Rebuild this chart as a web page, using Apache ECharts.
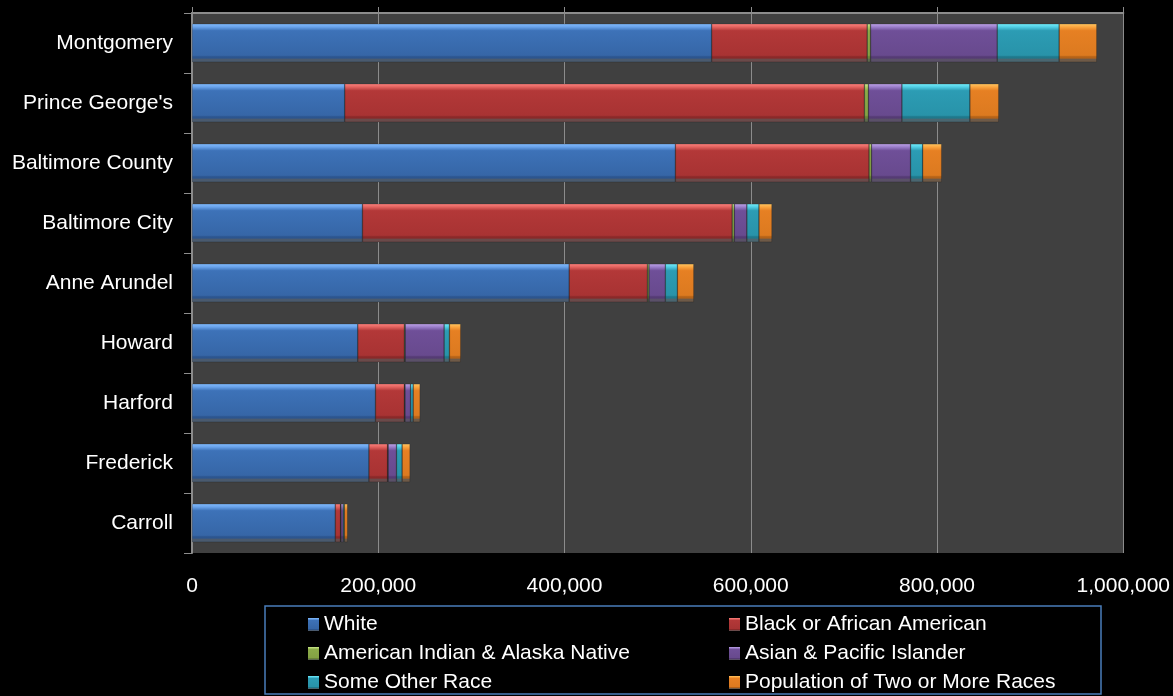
<!DOCTYPE html>
<html>
<head>
<meta charset="utf-8">
<script src="https://cdn.jsdelivr.net/npm/echarts@6/dist/echarts.min.js"></script>
<style>
html,body{margin:0;padding:0;background:#000;}
#c{width:1173px;height:696px;}
</style>
</head>
<body>
<div id="c"></div>
<script>
const categories = ["Montgomery","Prince George's","Baltimore County","Baltimore City","Anne Arundel","Howard","Harford","Frederick","Carroll"];
const white    = [558000, 164000, 519000, 183000, 405000, 178000, 197000, 190000, 153800];
const black    = [167000, 558000, 208000, 397000,  84000,  50000,  31000,  20000,   5700];
const amInd    = [  3600,   4300,   2600,   2300,   1700,    900,    700,    600,    400];
const asian    = [136000,  36000,  42000,  13500,  17500,  41800,   6000,   9000,   2500];
const other    = [ 66500,  73000,  13000,  13000,  13000,   5700,   2800,   6000,   1200];
const twoPlus  = [ 40500,  31000,  20400,  14000,  17700,  12200,   7500,   8600,   3500];
const xTicks = [0, 200000, 400000, 600000, 800000, 1000000];

const seriesNames = ["White","Black or African American","American Indian & Alaska Native","Asian & Pacific Islander","Some Other Race","Population of Two or More Races"];
const seriesData = [white, black, amInd, asian, other, twoPlus];
const palettes = [
  ['#82bbfc','#6aa4ec','#3d72b8','#3666a7','#2c558e','#4a5a6e'],
  ['#fd827e','#e46460','#b33838','#a83333','#8a2929','#6a4a4a'],
  ['#cfea94','#b0d068','#8bab48','#84a244','#6b8637','#5e6a4e'],
  ['#bfa4e8','#9c80cc','#6f4f98','#684a8e','#553b74','#5a5068'],
  ['#76eefc','#52d0e6','#2c9cb4','#2893a9','#1f788b','#4a6670'],
  ['#ffc864','#fca640','#e68023','#dc7a20','#b46218','#6e5a48']
];
function grad(p){
  return {type:'linear',x:0,y:0,x2:0,y2:1,colorStops:[
    {offset:0,color:p[0]},{offset:0.08,color:p[1]},{offset:0.18,color:p[2]},
    {offset:0.82,color:p[3]},{offset:0.86,color:p[4]},{offset:0.9,color:p[4]},
    {offset:0.91,color:p[5]},{offset:1,color:p[5]}]};
}

const chart = echarts.init(document.getElementById('c'));
const series = seriesNames.map((n,i)=>({
  name:n, type:'bar', stack:'total', xAxisIndex:1, barWidth:'64%',
  data: seriesData[i],
  itemStyle:{color:grad(palettes[i]), borderColor:'rgba(0,0,0,0.3)', borderWidth:0.6},
  emphasis:{disabled:true}
}));
const font = 'Liberation Sans, Arial, sans-serif';
chart.setOption({
  backgroundColor:'#000',
  animation:false,
  grid:{left:192,right:49,top:13,height:540,show:true,backgroundColor:'#404040',borderWidth:0,containLabel:false},
  xAxis:[
    {type:'value',position:'top',min:0,max:1000000,interval:200000,
     axisLine:{show:true,lineStyle:{color:'#8c8c8c',width:2}},
     axisTick:{show:true,length:6,inside:false,lineStyle:{color:'#8c8c8c',width:1}},
     axisLabel:{show:false},
     splitLine:{show:true,lineStyle:{color:'#8c8c8c',width:1}}},
    {type:'value',position:'bottom',min:0,max:1000000,interval:200000,
     axisLine:{show:false},axisTick:{show:false},splitLine:{show:false},
     axisLabel:{show:true,color:'#fff',fontSize:21,fontFamily:font,margin:23,
       formatter:v=>xTicks.includes(v)?v.toLocaleString('en-US'):''}}
  ],
  yAxis:{type:'category',data:categories,inverse:true,
    axisLine:{show:true,lineStyle:{color:'#8c8c8c',width:2}},
    axisTick:{show:true,length:8,lineStyle:{color:'#8c8c8c',width:1}},
    axisLabel:{color:'#fff',fontSize:21,fontFamily:font,margin:19},
    splitLine:{show:false}},
  legend:[
    {data:[seriesNames[0],seriesNames[2],seriesNames[4]],orient:'vertical',left:308,top:614,padding:0,height:90,
     itemWidth:11,itemHeight:13,itemGap:8,icon:'rect',itemStyle:{borderWidth:0},
     textStyle:{color:'#fff',fontSize:21,lineHeight:20,fontFamily:font}},
    {data:[seriesNames[1],seriesNames[3],seriesNames[5]],orient:'vertical',left:729,top:614,padding:0,height:90,
     itemWidth:11,itemHeight:13,itemGap:8,icon:'rect',itemStyle:{borderWidth:0},
     textStyle:{color:'#fff',fontSize:21,lineHeight:20,fontFamily:font}}
  ],
  graphic:[{type:'rect',shape:{x:265,y:606,width:836,height:88},
    style:{fill:'none',stroke:'#4a7ebb',lineWidth:1.5},silent:true}],
  series:series
});
</script>
</body>
</html>
